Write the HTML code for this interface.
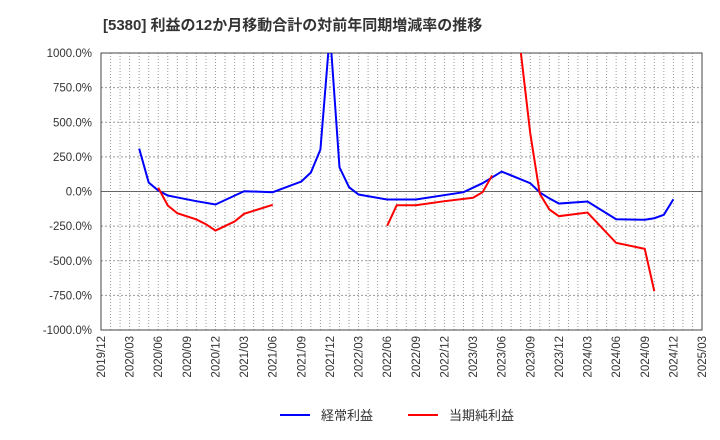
<!DOCTYPE html>
<html><head><meta charset="utf-8"><style>
body{margin:0;background:#fff;}
svg{display:block;font-family:"Liberation Sans","Noto Sans CJK JP",sans-serif;}
</style></head><body>
<svg id="c" width="720" height="440"></svg>
<script>
const yTicks=[1000,750,500,250,0,-250,-500,-750,-1000];
const xTickLabels=["2019/12","2020/03","2020/06","2020/09","2020/12","2021/03","2021/06","2021/09","2021/12","2022/03","2022/06","2022/09","2022/12","2023/03","2023/06","2023/09","2023/12","2024/03","2024/06","2024/09","2024/12","2025/03"];
const blueDates=["2020/04","2020/05","2020/06","2020/07","2020/08","2020/10","2020/12","2021/03","2021/06","2021/09","2021/10","2021/11","2021/12","2022/01","2022/02","2022/03","2022/06","2022/09","2023/02","2023/04","2023/06","2023/09","2023/10","2023/11","2023/12","2024/03","2024/06","2024/09","2024/10","2024/11","2024/12"];
const blueValues=[310,65,7,-29,-43,-70,-94,2,-5,72,137,303,1150,175,31,-22,-58,-58,-5,60,144,60,-7,-50,-87,-72,-200,-204,-193,-168,-56];
const redDates=["2020/06","2020/07","2020/08","2020/10","2020/11","2020/12","2021/02","2021/03","2021/06","2022/06","2022/07","2022/09","2022/12","2023/03","2023/04","2023/05","2023/06","2023/08","2023/09","2023/10","2023/11","2023/12","2024/03","2024/06","2024/09","2024/10"];
const redValues=[27,-101,-157,-202,-236,-282,-217,-161,-96,-248,-99,-99,-70,-45,-5,116,null,1010,418,-17,-130,-178,-152,-371,-414,-720];
const L=101,R=702,T=53,B=330;
const NS="http://www.w3.org/2000/svg";
const svg=document.getElementById('c');
function mi(d){const [y,m]=d.split('/').map(Number);return (y-2019)*12+(m-12);}
const totalM=mi("2025/03");
function xs(d){return L+mi(d)/totalM*(R-L);}
function ys(v){return T+(1000-v)/2000*(B-T);}
function el(t,a,p){const e=document.createElementNS(NS,t);for(const k in a)e.setAttribute(k,a[k]);(p||svg).appendChild(e);return e;}
let t=el('text',{x:103,y:30,'font-size':15,'font-weight':'bold',fill:'#333'});


t.textContent="[5380]  利益の12か月移動合計の対前年同期増減率の推移";
const grid=el('g',{});


for(let m=1;m<totalM;m++){const x=L+m/totalM*(R-L);el('line',{x1:x,x2:x,y1:T,y2:B,stroke:'#999','stroke-dasharray':'1,2','stroke-width':1},grid);}
yTicks.forEach(v=>{const y=ys(v);
 if(v!==1000&&v!==-1000)el('line',{x1:L,x2:R,y1:y,y2:y,stroke:v===0?'#666':'#999','stroke-dasharray':v===0?'':'2,2','stroke-width':1},grid);
 const tx=el('text',{x:92,y:y+4,'text-anchor':'end','font-size':11.5,fill:'#333'});
 
 
 tx.textContent=v.toFixed(1)+'%';});
xTickLabels.forEach(d=>{const x=xs(d);
 const tx=el('text',{x:0,y:0,'text-anchor':'end','font-size':11.5,fill:'#333',transform:`translate(${x+4},336) rotate(-90)`});
 
 
 tx.textContent=d;});
const fr=el('rect',{x:L,y:T,width:R-L,height:B-T,fill:'none',stroke:'#444'});


const defs=el('defs',{});
const cp=el('clipPath',{id:'cp'},defs);
el('rect',{x:L,y:T,width:R-L,height:B-T},cp);
function series(dates,vals,color,name){
 const segs=[];let cur=[];
 for(let i=0;i<dates.length;i++){
  if(vals[i]===null){if(cur.length)segs.push(cur);cur=[];continue;}
  if(cur.length&&mi(dates[i])-mi(dates[i-1])>6){segs.push(cur);cur=[];}
  cur.push([xs(dates[i]),ys(vals[i])]);
 }
 if(cur.length)segs.push(cur);
 const g=el('g',{'clip-path':'url(#cp)'});
 
 
 segs.forEach(s=>el('polyline',{points:s.map(p=>p.join(',')).join(' '),fill:'none',stroke:color,'stroke-width':2},g));
}
series(blueDates,blueValues,'#0000ff','series-ordinary-profit');
series(redDates,redValues,'#ff0000','series-net-profit');
const lg=el('g',{});


el('line',{x1:280,x2:310,y1:415,y2:415,stroke:'#0000ff','stroke-width':2},lg);
let a=el('text',{x:321,y:420,'font-size':13,fill:'#333'},lg);a.textContent='経常利益';


el('line',{x1:408,x2:438,y1:415,y2:415,stroke:'#ff0000','stroke-width':2},lg);
let b=el('text',{x:449,y:420,'font-size':13,fill:'#333'},lg);b.textContent='当期純利益';


</script>
</body></html>
